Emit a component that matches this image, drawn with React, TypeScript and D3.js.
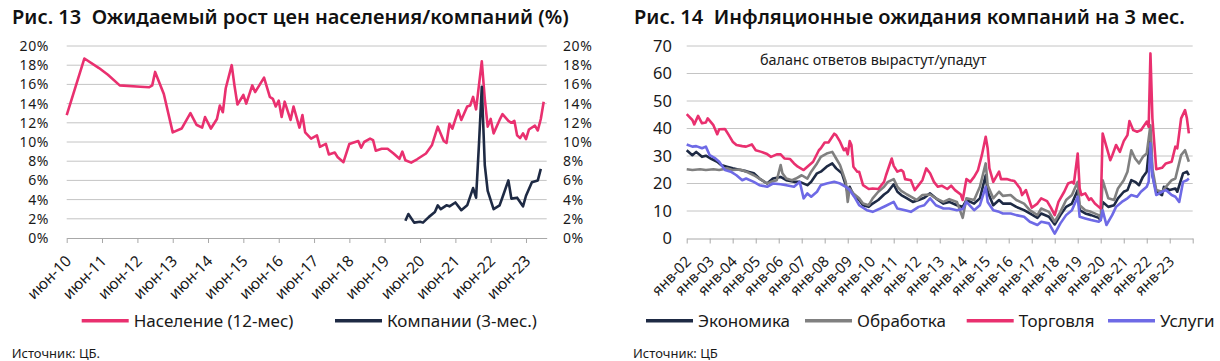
import { useEffect, useRef } from "react";
import * as d3 from "d3";

const FONT = "'Noto Sans', sans-serif";

// Рис. 13 — ожидаемый рост цен, %
const naselenie: [string, number][] = [
  ["2010-06", 12.8], ["2010-12", 18.7], ["2011-05", 17.7], ["2011-08", 17.0], ["2011-12", 15.9],
  ["2012-07", 15.75], ["2012-10", 15.7], ["2012-11", 15.9], ["2012-12", 17.3], ["2013-03", 15.0],
  ["2013-06", 11.0], ["2013-09", 11.4], ["2013-12", 13.0], ["2014-02", 11.8], ["2014-04", 11.5],
  ["2014-05", 12.6], ["2014-07", 11.4], ["2014-09", 12.4], ["2014-10", 13.8], ["2014-11", 13.1],
  ["2014-12", 15.6], ["2015-02", 18.0], ["2015-03", 15.9], ["2015-04", 13.9], ["2015-06", 14.9],
  ["2015-07", 14.0], ["2015-09", 15.9], ["2015-10", 15.2], ["2016-01", 16.7], ["2016-03", 14.7],
  ["2016-04", 14.5], ["2016-05", 13.7], ["2016-06", 14.3], ["2016-07", 12.6], ["2016-08", 14.2],
  ["2016-10", 12.3], ["2016-11", 13.7], ["2017-01", 11.5], ["2017-02", 12.8], ["2017-03", 11.0],
  ["2017-05", 10.35], ["2017-07", 10.7], ["2017-08", 9.5], ["2017-10", 9.8], ["2017-11", 8.7],
  ["2018-01", 8.9], ["2018-02", 8.4], ["2018-04", 7.9], ["2018-06", 9.8], ["2018-07", 9.9],
  ["2018-09", 10.1], ["2018-10", 9.4], ["2018-11", 10.0], ["2019-01", 10.35], ["2019-02", 10.2],
  ["2019-03", 9.1], ["2019-05", 9.3], ["2019-07", 9.3], ["2019-09", 8.8], ["2019-11", 8.25],
  ["2019-12", 9.0], ["2020-01", 8.1], ["2020-03", 7.85], ["2020-05", 8.2], ["2020-08", 8.8],
  ["2020-10", 9.65], ["2020-12", 11.6], ["2021-02", 10.1], ["2021-03", 9.9], ["2021-04", 11.9],
  ["2021-05", 11.4], ["2021-07", 13.3], ["2021-08", 12.3], ["2021-10", 13.7], ["2021-11", 13.8],
  ["2021-12", 14.7], ["2022-01", 13.4], ["2022-03", 18.4], ["2022-04", 14.5], ["2022-05", 11.6],
  ["2022-06", 12.4], ["2022-07", 10.9], ["2022-09", 12.3], ["2022-10", 12.9], ["2022-12", 12.2],
  ["2023-01", 12.0], ["2023-02", 12.2], ["2023-03", 10.7], ["2023-04", 10.4], ["2023-05", 10.9],
  ["2023-06", 10.3], ["2023-07", 11.3], ["2023-09", 11.7], ["2023-10", 11.2], ["2023-11", 12.4],
  ["2023-12", 14.2],
];

const kompanii: [string, number][] = [
  ["2020-01", 1.8], ["2020-02", 2.5], ["2020-04", 1.6], ["2020-06", 1.7], ["2020-07", 1.6],
  ["2020-09", 2.2], ["2020-11", 2.7], ["2020-12", 3.4], ["2021-01", 3.0], ["2021-03", 3.4],
  ["2021-04", 3.3], ["2021-06", 3.7], ["2021-08", 2.9], ["2021-10", 3.4], ["2021-12", 5.2],
  ["2022-01", 4.2], ["2022-02", 10.0], ["2022-03", 15.75], ["2022-04", 7.6], ["2022-05", 4.9],
  ["2022-07", 3.0], ["2022-09", 3.4], ["2022-10", 4.25], ["2022-12", 6.0], ["2023-01", 4.1],
  ["2023-03", 4.2], ["2023-05", 3.3], ["2023-06", 4.4], ["2023-08", 5.8], ["2023-10", 6.0],
  ["2023-11", 7.2],
];

const leftTickLabels = [
  "июн-10", "июн-11", "июн-12", "июн-13", "июн-14", "июн-15", "июн-16",
  "июн-17", "июн-18", "июн-19", "июн-20", "июн-21", "июн-22", "июн-23",
];

// Рис. 14 — баланс ответов
const ekonomika: [string, number][] = [
  ["2002-01", 32.1], ["2002-04", 30.3], ["2002-06", 31.5], ["2002-09", 29.7], ["2002-11", 30.1],
  ["2003-02", 28.9], ["2003-05", 27.9], ["2003-07", 26.7], ["2003-10", 26.1], ["2004-01", 25.5],
  ["2004-05", 24.9], ["2004-08", 24.5], ["2004-12", 23.7], ["2005-03", 21.8], ["2005-07", 20.0],
  ["2005-10", 21.8], ["2006-02", 22.4], ["2006-05", 21.2], ["2006-09", 20.6], ["2006-12", 20.6],
  ["2007-04", 19.4], ["2007-06", 20.6], ["2007-09", 23.7], ["2007-11", 24.3], ["2008-02", 26.1],
  ["2008-05", 27.3], ["2008-07", 25.5], ["2008-10", 23.7], ["2008-12", 19.4], ["2009-01", 16.4],
  ["2009-02", 18.8], ["2009-04", 15.8], ["2009-07", 14.0], ["2009-09", 12.1], ["2009-12", 11.5],
  ["2010-02", 12.7], ["2010-05", 14.0], ["2010-08", 16.0], ["2010-10", 17.0], ["2011-01", 19.7],
  ["2011-03", 17.0], ["2011-05", 15.8], ["2011-08", 14.6], ["2011-11", 13.3], ["2012-02", 14.0],
  ["2012-05", 14.8], ["2012-08", 16.4], ["2012-11", 14.6], ["2013-03", 12.7], ["2013-06", 13.3],
  ["2013-10", 12.1], ["2014-01", 11.5], ["2014-03", 14.0], ["2014-07", 12.7], ["2014-10", 14.6],
  ["2015-01", 23.0], ["2015-02", 17.0], ["2015-05", 12.1], ["2015-08", 14.0], ["2015-10", 12.7],
  ["2016-02", 12.7], ["2016-05", 11.5], ["2016-09", 10.3], ["2016-12", 9.1], ["2017-04", 7.5],
  ["2017-06", 9.1], ["2017-10", 7.9], ["2018-01", 5.1], ["2018-04", 8.5], ["2018-07", 11.5],
  ["2018-10", 12.7], ["2019-01", 17.6], ["2019-02", 10.3], ["2019-05", 9.1], ["2019-08", 8.5],
  ["2019-12", 7.5], ["2020-01", 6.7], ["2020-02", 13.3], ["2020-05", 11.5], ["2020-08", 12.1],
  ["2020-10", 14.6], ["2021-01", 17.0], ["2021-03", 17.6], ["2021-05", 21.2], ["2021-07", 20.6],
  ["2021-09", 19.4], ["2021-11", 22.4], ["2022-01", 24.3], ["2022-03", 37.6], ["2022-04", 23.0],
  ["2022-06", 17.0], ["2022-09", 15.8], ["2022-10", 18.8], ["2023-01", 17.6], ["2023-04", 18.2],
  ["2023-05", 17.0], ["2023-08", 23.7], ["2023-10", 24.3], ["2023-11", 23.0],
];

const obrabotka: [string, number][] = [
  ["2002-01", 25.2], ["2002-04", 24.9], ["2002-08", 25.2], ["2002-11", 24.9], ["2003-03", 25.2],
  ["2003-06", 24.9], ["2003-10", 25.5], ["2004-01", 24.9], ["2004-05", 25.1], ["2004-08", 24.3],
  ["2004-12", 23.0], ["2005-03", 21.8], ["2005-07", 20.0], ["2005-09", 20.6], ["2005-12", 21.2],
  ["2006-02", 26.7], ["2006-03", 23.7], ["2006-05", 21.8], ["2006-08", 21.2], ["2006-10", 21.8],
  ["2007-01", 23.0], ["2007-04", 21.8], ["2007-06", 24.3], ["2007-09", 27.3], ["2007-11", 29.7],
  ["2008-02", 30.9], ["2008-05", 31.5], ["2008-07", 29.1], ["2008-09", 26.7], ["2008-12", 20.6],
  ["2009-01", 13.3], ["2009-02", 18.2], ["2009-04", 16.4], ["2009-07", 14.6], ["2009-09", 12.7],
  ["2009-12", 12.1], ["2010-02", 14.6], ["2010-05", 17.0], ["2010-08", 18.8], ["2010-10", 20.6],
  ["2011-01", 21.6], ["2011-03", 18.8], ["2011-05", 17.3], ["2011-08", 16.0], ["2011-10", 15.2],
  ["2012-01", 14.0], ["2012-04", 15.8], ["2012-08", 16.0], ["2012-11", 14.6], ["2013-03", 13.3],
  ["2013-06", 14.3], ["2013-10", 13.3], ["2014-01", 7.5], ["2014-03", 14.6], ["2014-07", 14.0],
  ["2014-10", 18.8], ["2015-01", 27.3], ["2015-02", 19.4], ["2015-05", 14.6], ["2015-08", 17.0],
  ["2015-10", 15.5], ["2016-02", 15.8], ["2016-05", 14.0], ["2016-09", 12.7], ["2016-12", 10.3],
  ["2017-04", 8.5], ["2017-06", 10.9], ["2017-10", 9.7], ["2018-01", 6.1], ["2018-04", 9.7],
  ["2018-07", 14.0], ["2018-10", 15.8], ["2019-01", 20.6], ["2019-02", 12.1], ["2019-05", 10.3],
  ["2019-08", 9.7], ["2019-12", 8.5], ["2020-01", 7.3], ["2020-02", 21.2], ["2020-05", 14.6],
  ["2020-08", 14.0], ["2020-10", 18.2], ["2021-01", 21.2], ["2021-03", 24.3], ["2021-05", 32.1],
  ["2021-07", 29.1], ["2021-09", 27.3], ["2021-11", 29.7], ["2022-01", 30.9], ["2022-03", 41.2],
  ["2022-04", 25.5], ["2022-06", 17.6], ["2022-09", 17.0], ["2022-11", 18.8], ["2023-02", 21.2],
  ["2023-04", 21.8], ["2023-07", 30.3], ["2023-09", 32.1], ["2023-11", 27.9],
];

const torgovlya: [string, number][] = [
  ["2002-01", 45.2], ["2002-04", 43.1], ["2002-05", 41.5], ["2002-07", 44.6], ["2002-09", 41.9],
  ["2002-11", 42.2], ["2002-12", 43.7], ["2003-03", 41.2], ["2003-05", 37.9], ["2003-06", 39.7],
  ["2003-09", 39.8], ["2003-11", 37.6], ["2004-01", 35.2], ["2004-03", 34.0], ["2004-06", 33.6],
  ["2004-08", 33.4], ["2004-11", 34.2], ["2005-01", 32.1], ["2005-04", 31.5], ["2005-07", 30.7],
  ["2005-09", 29.7], ["2005-12", 30.6], ["2006-02", 30.6], ["2006-04", 29.1], ["2006-07", 28.9],
  ["2006-09", 27.3], ["2006-11", 26.1], ["2007-02", 24.9], ["2007-04", 26.1], ["2007-07", 27.9],
  ["2007-10", 32.1], ["2007-11", 32.8], ["2008-01", 34.9], ["2008-03", 34.9], ["2008-06", 38.1],
  ["2008-07", 37.6], ["2008-09", 35.2], ["2008-11", 32.1], ["2008-12", 32.8], ["2009-01", 30.6],
  ["2009-02", 35.4], ["2009-03", 34.0], ["2009-04", 26.1], ["2009-06", 24.3], ["2009-07", 24.3],
  ["2009-09", 19.4], ["2009-12", 18.0], ["2010-02", 18.2], ["2010-05", 18.0], ["2010-08", 20.6],
  ["2010-09", 23.0], ["2010-12", 29.1], ["2011-01", 26.4], ["2011-03", 24.3], ["2011-05", 24.9],
  ["2011-06", 24.3], ["2011-07", 21.6], ["2011-10", 21.2], ["2011-12", 17.6], ["2012-02", 19.4],
  ["2012-04", 21.2], ["2012-06", 25.5], ["2012-08", 23.7], ["2012-10", 20.6], ["2012-12", 18.8],
  ["2013-02", 19.2], ["2013-05", 18.0], ["2013-07", 19.2], ["2013-09", 17.6], ["2013-12", 16.0],
  ["2014-01", 14.0], ["2014-03", 21.6], ["2014-05", 20.6], ["2014-07", 22.4], ["2014-09", 24.9],
  ["2014-11", 30.3], ["2015-01", 37.0], ["2015-02", 32.8], ["2015-03", 25.5], ["2015-05", 20.6],
  ["2015-08", 24.3], ["2015-09", 21.6], ["2015-12", 21.6], ["2016-02", 21.2], ["2016-04", 20.9],
  ["2016-07", 18.2], ["2016-08", 15.8], ["2016-10", 17.6], ["2017-01", 11.2], ["2017-04", 12.7],
  ["2017-06", 14.6], ["2017-09", 13.6], ["2017-11", 11.2], ["2018-01", 8.5], ["2018-03", 13.3],
  ["2018-06", 17.0], ["2018-08", 20.0], ["2018-10", 20.6], ["2018-11", 20.0], ["2019-01", 30.9],
  ["2019-02", 18.2], ["2019-03", 15.8], ["2019-05", 16.4], ["2019-07", 14.0], ["2019-08", 14.6],
  ["2019-10", 12.7], ["2019-12", 11.5], ["2020-01", 10.9], ["2020-02", 38.2], ["2020-04", 33.4],
  ["2020-06", 28.5], ["2020-07", 30.1], ["2020-09", 34.0], ["2020-11", 31.5], ["2021-01", 35.4],
  ["2021-03", 37.6], ["2021-04", 42.7], ["2021-06", 39.4], ["2021-08", 38.8], ["2021-10", 39.4],
  ["2022-01", 42.5], ["2022-02", 40.6], ["2022-03", 67.3], ["2022-04", 43.7], ["2022-06", 25.2],
  ["2022-09", 25.7], ["2022-11", 27.3], ["2023-02", 27.9], ["2023-04", 33.4], ["2023-05", 32.8],
  ["2023-07", 43.7], ["2023-09", 46.7], ["2023-10", 43.7], ["2023-11", 38.2],
];

const uslugi: [string, number][] = [
  ["2002-01", 34.2], ["2002-04", 33.4], ["2002-06", 33.6], ["2002-09", 32.8], ["2002-11", 33.4],
  ["2003-01", 30.3], ["2003-04", 29.1], ["2003-06", 27.9], ["2003-09", 24.9], ["2003-12", 24.3],
  ["2004-03", 23.0], ["2004-06", 21.2], ["2004-08", 21.8], ["2004-12", 20.6], ["2005-03", 19.4],
  ["2005-07", 18.8], ["2005-10", 20.0], ["2006-02", 19.7], ["2006-05", 19.4], ["2006-09", 18.8],
  ["2006-12", 20.6], ["2007-02", 14.6], ["2007-04", 16.4], ["2007-06", 15.2], ["2007-09", 17.0],
  ["2007-11", 19.4], ["2008-02", 20.0], ["2008-06", 20.6], ["2008-09", 20.0], ["2008-12", 18.8],
  ["2009-02", 17.6], ["2009-05", 14.6], ["2009-07", 12.1], ["2009-11", 10.3], ["2010-02", 9.7],
  ["2010-06", 10.9], ["2010-09", 11.9], ["2011-01", 13.3], ["2011-03", 10.9], ["2011-07", 10.3],
  ["2011-10", 9.7], ["2012-02", 11.5], ["2012-05", 12.1], ["2012-08", 14.6], ["2012-11", 12.1],
  ["2013-03", 10.9], ["2013-06", 10.9], ["2013-10", 10.3], ["2014-01", 10.7], ["2014-03", 13.3],
  ["2014-07", 10.3], ["2014-10", 12.1], ["2015-01", 18.8], ["2015-02", 13.3], ["2015-05", 10.3],
  ["2015-08", 9.7], ["2015-10", 9.1], ["2016-02", 9.1], ["2016-05", 8.5], ["2016-09", 7.9],
  ["2016-12", 6.1], ["2017-04", 4.9], ["2017-06", 6.1], ["2017-10", 5.5], ["2018-01", 1.8],
  ["2018-04", 5.5], ["2018-07", 8.5], ["2018-10", 10.3], ["2019-01", 15.2], ["2019-02", 7.9],
  ["2019-05", 7.3], ["2019-08", 6.7], ["2019-12", 6.1], ["2020-01", 6.7], ["2020-02", 10.3],
  ["2020-04", 4.9], ["2020-07", 8.5], ["2020-09", 11.5], ["2020-12", 13.3], ["2021-03", 14.6],
  ["2021-05", 15.8], ["2021-08", 15.2], ["2021-10", 17.0], ["2022-01", 18.8], ["2022-02", 20.6],
  ["2022-03", 34.6], ["2022-04", 23.0], ["2022-06", 15.8], ["2022-09", 17.0], ["2022-11", 17.6],
  ["2023-02", 15.8], ["2023-04", 15.2], ["2023-06", 13.3], ["2023-08", 20.6], ["2023-10", 21.2],
  ["2023-11", 21.8],
];

const rightTickLabels = [
  "янв-02", "янв-03", "янв-04", "янв-05", "янв-06", "янв-07", "янв-08", "янв-09",
  "янв-10", "янв-11", "янв-12", "янв-13", "янв-14", "янв-15", "янв-16", "янв-17",
  "янв-18", "янв-19", "янв-20", "янв-21", "янв-22", "янв-23",
];

const leftSeries = [
  { name: "Население (12-мес)", data: naselenie, color: "#E9306F" },
  { name: "Компании (3-мес.)", data: kompanii, color: "#1E2A44" },
];

const rightSeries = [
  { name: "Экономика", data: ekonomika, color: "#1E2A44" },
  { name: "Обработка", data: obrabotka, color: "#808080" },
  { name: "Торговля", data: torgovlya, color: "#E9306F" },
  { name: "Услуги", data: uslugi, color: "#6E6AE6" },
];

const parse = d3.timeParse("%Y-%m");

export default function App() {
  const ref = useRef<SVGSVGElement>(null);

  useEffect(() => {
    const svg = d3.select(ref.current);
    svg.selectAll("*").remove();
    svg.style("font-family", FONT);

    const grid = "#C4C4C4";
    const txt = "#1a1a1a";

    // ---------- left chart ----------
    const xL = d3.scaleTime().domain([parse("2010-06")!, parse("2024-01")!]).range([66.7, 546.7]);
    const yL = d3.scaleLinear().domain([0, 20]).range([238, 46]);

    const gL = svg.append("g");
    gL.selectAll(".grid")
      .data(d3.range(2, 21, 2))
      .join("line")
      .attr("x1", xL.range()[0])
      .attr("x2", xL.range()[1])
      .attr("y1", (d) => yL(d))
      .attr("y2", (d) => yL(d))
      .attr("stroke", grid)
      .attr("stroke-width", 1);

    const leftTicks = d3.range(2010, 2024).map((y) => new Date(y, 5, 1));
    const axL = gL.append("g")
      .attr("transform", `translate(0,${yL(0)})`)
      .call(
        d3.axisBottom(xL)
          .tickValues(leftTicks)
          .tickSize(5)
          .tickSizeOuter(0)
          .tickFormat((_, i) => leftTickLabels[i])
      );
    axL.select(".domain").attr("stroke", "#A8A8A8");
    axL.selectAll(".tick line").attr("stroke", "#A8A8A8");
    axL.selectAll(".tick text")
      .attr("y", 0).attr("x", 0).attr("dy", 0)
      .attr("transform", "translate(5,24) rotate(-45)")
      .style("text-anchor", "end")
      .style("font-size", "15.5px")
      .style("font-family", FONT)
      .attr("fill", txt);

    const yTicksL = d3.range(0, 21, 2);
    const ayl = gL.append("g")
      .attr("transform", "translate(52,0)")
      .call(d3.axisLeft(yL).tickValues(yTicksL).tickSize(0).tickPadding(3).tickFormat((d) => `${d}%`));
    const ayr = gL.append("g")
      .attr("transform", "translate(560,0)")
      .call(d3.axisRight(yL).tickValues(yTicksL).tickSize(0).tickPadding(3).tickFormat((d) => `${d}%`));
    [ayl, ayr].forEach((a) => {
      a.select(".domain").remove();
      a.selectAll("text").style("font-size", "14px").style("font-family", FONT)
        .style("letter-spacing", "0.6px").attr("fill", txt);
    });

    const lineL = d3.line<[string, number]>()
      .x((d) => xL(parse(d[0])!))
      .y((d) => yL(d[1]));
    gL.selectAll(".series")
      .data(leftSeries)
      .join("path")
      .attr("d", (s) => lineL(s.data))
      .attr("fill", "none")
      .attr("stroke", (s) => s.color)
      .attr("stroke-width", 2.6)
      .attr("stroke-linejoin", "round");

    // legend left
    const legLx = [81.7, 335];
    leftSeries.forEach((s, i) => {
      const lx = legLx[i];
      gL.append("line").attr("x1", lx).attr("x2", lx + 47).attr("y1", 320.7).attr("y2", 320.7)
        .attr("stroke", s.color).attr("stroke-width", 3.5);
      gL.append("text").attr("x", lx + 52).attr("y", 326.5).text(s.name)
        .style("font-size", "17px").attr("fill", txt);
    });

    gL.append("text").attr("x", 12).attr("y", 24)
      .text("Рис. 13  Ожидаемый рост цен населения/компаний (%)")
      .style("font-size", "20px").style("font-weight", 600).style("white-space", "pre")
      .attr("fill", "#111");
    gL.append("text").attr("x", 11.7).attr("y", 357.5).text("Источник: ЦБ.")
      .style("font-size", "13px").attr("fill", txt);

    // ---------- right chart ----------
    const xR = d3.scaleTime().domain([parse("2002-01")!, parse("2024-01")!]).range([686.7, 1192.7]);
    const yR = d3.scaleLinear().domain([0, 70]).range([238.5, 46]);
    const gR = svg.append("g");

    gR.selectAll(".grid")
      .data(d3.range(10, 71, 10))
      .join("line")
      .attr("x1", xR.range()[0])
      .attr("x2", xR.range()[1])
      .attr("y1", (d) => yR(d))
      .attr("y2", (d) => yR(d))
      .attr("stroke", grid)
      .attr("stroke-width", 1);

    const rightTicks = d3.range(2002, 2025).map((y) => new Date(y, 0, 1));
    const axR = gR.append("g")
      .attr("transform", `translate(0,${yR(0)})`)
      .call(
        d3.axisBottom(xR)
          .tickValues(rightTicks)
          .tickSize(5)
          .tickSizeOuter(0)
          .tickFormat((_, i) => rightTickLabels[i] ?? "")
      );
    axR.select(".domain").attr("stroke", "#A8A8A8");
    axR.selectAll(".tick line").attr("stroke", "#A8A8A8");
    axR.selectAll(".tick text")
      .attr("y", 0).attr("x", 0).attr("dy", 0)
      .attr("transform", "translate(5,24) rotate(-45)")
      .style("text-anchor", "end")
      .style("font-size", "15px")
      .style("font-family", FONT)
      .attr("fill", txt);

    const ayR = gR.append("g")
      .attr("transform", "translate(675,0)")
      .call(d3.axisLeft(yR).tickValues(d3.range(0, 71, 10)).tickSize(0).tickPadding(3));
    ayR.select(".domain").remove();
    ayR.selectAll("text").style("font-size", "16.5px").style("font-family", FONT).attr("fill", txt);

    gR.append("text").attr("x", 760).attr("y", 64.5).text("баланс ответов вырастут/упадут")
      .style("font-size", "14.4px").attr("fill", txt);

    const lineR = d3.line<[string, number]>()
      .x((d) => xR(parse(d[0])!))
      .y((d) => yR(d[1]));
    gR.selectAll(".series")
      .data(rightSeries)
      .join("path")
      .attr("d", (s) => lineR(s.data))
      .attr("fill", "none")
      .attr("stroke", (s) => s.color)
      .attr("stroke-width", 2.6)
      .attr("stroke-linejoin", "round");

    const legRx = [646, 805, 966.7, 1108];
    rightSeries.forEach((s, i) => {
      const lx = legRx[i];
      gR.append("line").attr("x1", lx).attr("x2", lx + 47).attr("y1", 320.7).attr("y2", 320.7)
        .attr("stroke", s.color).attr("stroke-width", 3.5);
      gR.append("text").attr("x", lx + 52).attr("y", 326.5).text(s.name)
        .style("font-size", "17px").attr("fill", txt);
    });

    gR.append("text").attr("x", 634).attr("y", 24)
      .text("Рис. 14  Инфляционные ожидания компаний на 3 мес.")
      .style("font-size", "20px").style("font-weight", 600).style("white-space", "pre")
      .attr("fill", "#111");
    gR.append("text").attr("x", 633).attr("y", 357.5).text("Источник: ЦБ")
      .style("font-size", "13px").attr("fill", txt);
  }, []);

  return (
    <svg
      ref={ref}
      width={1220}
      height={361}
      style={{ position: "absolute", left: 0, top: 0, background: "#fff" }}
    />
  );
}
